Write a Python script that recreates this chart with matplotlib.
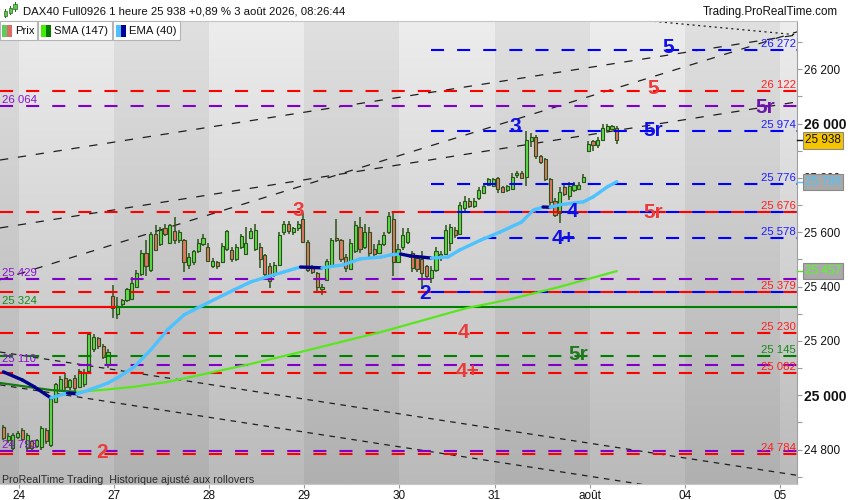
import matplotlib
matplotlib.use("Agg")
import matplotlib.pyplot as plt
import numpy as np
from matplotlib.patches import Rectangle
from matplotlib.collections import LineCollection

plt.rcParams['font.family'] = ['Liberation Sans', 'DejaVu Sans']
plt.rcParams['lines.scale_dashes'] = False

# ---------------- data ----------------
first_bar = -4
bar_open = [24883, 24835, 24805, 24845, 24872, 24805, 24830, 24812, 24810, 24872,
            24815, 24975, 25020, 25065, 25030, 25065, 25030, 25040, 25090, 25170,
            25210, 25180, 25110, 25365, 25300, 25335, 25350, 25355, 25400, 25445,
            25525, 25460, 25595, 25555, 25615, 25560, 25605, 25570, 25570, 25480,
            25490, 25530, 25555, 25545, 25475, 25490, 25490, 25540, 25535, 25500,
            25545, 25520, 25580, 25540, 25545, 25515, 25475, 25445, 25480, 25600,
            25630, 25600, 25615, 25650, 25565, 25470, 25450, 25390, 25425, 25480,
            25580, 25570, 25510, 25465, 25530, 25620, 25545, 25600, 25540, 25525,
            25555, 25600, 25650, 25490, 25545, 25565, 25525, 25505, 25500, 25475,
            25430, 25460, 25505, 25520, 25560, 25610, 25595, 25690, 25715, 25695,
            25725, 25745, 25775, 25770, 25800, 25765, 25755, 25760, 25810, 25820,
            25805, 25935, 25950, 25880, 25870, 25795, 25715, 25670, 25765, 25735,
            25755, 25760, 25785, 25900, 25935, 25920, 25940, 25975, 25980, 25985]
bar_high = [24890, 24860, 24862, 24870, 24878, 24860, 24835, 24840, 24885, 24878,
            24995, 25045, 25070, 25080, 25060, 25075, 25095, 25095, 25230, 25225,
            25215, 25190, 25170, 25405, 25360, 25355, 25395, 25435, 25462, 25535,
            25570, 25600, 25625, 25620, 25630, 25630, 25655, 25610, 25575, 25525,
            25535, 25575, 25595, 25560, 25505, 25495, 25560, 25610, 25545, 25555,
            25595, 25620, 25615, 25630, 25560, 25520, 25485, 25490, 25600, 25640,
            25640, 25620, 25640, 25670, 25570, 25480, 25455, 25410, 25500, 25580,
            25650, 25575, 25520, 25575, 25640, 25655, 25630, 25620, 25555, 25570,
            25600, 25675, 25670, 25555, 25615, 25615, 25530, 25515, 25530, 25480,
            25475, 25545, 25530, 25625, 25630, 25620, 25710, 25735, 25725, 25725,
            25765, 25780, 25800, 25800, 25805, 25770, 25775, 25820, 25825, 25825,
            25972, 25965, 25960, 25885, 25875, 25800, 25725, 25765, 25775, 25785,
            25785, 25785, 25815, 25935, 25940, 25950, 26000, 26000, 25995, 25990]
bar_low = [24835, 24825, 24798, 24840, 24835, 24795, 24798, 24805, 24800, 24822,
           24810, 24970, 25010, 25020, 25020, 25010, 25025, 25030, 25085, 25160,
           25170, 25135, 25100, 25285, 25280, 25330, 25345, 25350, 25395, 25440,
           25440, 25455, 25530, 25550, 25585, 25555, 25555, 25560, 25455, 25465,
           25480, 25525, 25550, 25490, 25470, 25465, 25485, 25530, 25490, 25495,
           25540, 25515, 25575, 25530, 25470, 25435, 25395, 25435, 25475, 25590,
           25595, 25590, 25605, 25560, 25455, 25445, 25385, 25370, 25420, 25475,
           25565, 25490, 25455, 25460, 25525, 25525, 25540, 25510, 25510, 25520,
           25550, 25595, 25440, 25485, 25535, 25555, 25455, 25455, 25390, 25425,
           25415, 25455, 25495, 25515, 25530, 25580, 25590, 25680, 25690, 25690,
           25720, 25740, 25770, 25765, 25745, 25745, 25750, 25755, 25800, 25795,
           25770, 25915, 25870, 25850, 25790, 25700, 25655, 25635, 25735, 25720,
           25750, 25755, 25780, 25895, 25900, 25910, 25935, 25970, 25975, 25925]
bar_close = [24842, 24850, 24855, 24862, 24840, 24855, 24805, 24835, 24880, 24830,
             24990, 25040, 25060, 25030, 25055, 25025, 25090, 25080, 25225, 25215,
             25180, 25140, 25160, 25320, 25330, 25350, 25390, 25415, 25450, 25525,
             25475, 25595, 25535, 25610, 25595, 25625, 25570, 25600, 25490, 25510,
             25530, 25560, 25580, 25495, 25495, 25475, 25550, 25605, 25500, 25545,
             25585, 25560, 25605, 25610, 25500, 25445, 25420, 25480, 25590, 25630,
             25605, 25615, 25630, 25565, 25460, 25455, 25400, 25400, 25495, 25570,
             25570, 25500, 25470, 25560, 25625, 25540, 25600, 25525, 25520, 25555,
             25590, 25660, 25490, 25540, 25590, 25600, 25470, 25465, 25450, 25440,
             25460, 25530, 25520, 25610, 25620, 25590, 25700, 25715, 25695, 25715,
             25755, 25770, 25795, 25795, 25760, 25750, 25770, 25805, 25818, 25800,
             25940, 25950, 25880, 25860, 25795, 25710, 25665, 25750, 25740, 25770,
             25775, 25775, 25805, 25925, 25920, 25940, 25985, 25990, 25990, 25938]

ema_x = [-4, 0, 2.5, 6, 9.5, 11.5, 14, 18, 20, 23.5, 27, 30.5, 34, 36, 44.5, 48,
         51.5, 55, 58.5, 63, 67.5, 71, 75.5, 77.5, 79.5, 81.5, 86, 89.5, 92, 96.5,
         100.5, 105, 107.5, 109.5, 111, 113, 116, 118, 120, 123, 125]
ema_y = [25086, 25056, 25031, 24990, 25008, 25005, 25019, 25045, 25064, 25104,
         25167, 25240, 25296, 25314, 25388, 25417, 25436, 25454, 25472, 25469,
         25480, 25502, 25509, 25517, 25520, 25513, 25505, 25509, 25535, 25572,
         25601, 25638, 25682, 25693, 25692, 25701, 25708, 25712, 25730, 25767, 25786]

sma_x = [-4.7, 6, 11.5, 16.5, 23.5, 30.5, 37.5, 48, 58.5, 67, 75.5, 84.5, 93.5,
         102, 113, 125]
sma_y = [25045, 25019, 25012, 25019, 25031, 25049, 25075, 25115, 25159, 25196,
         25233, 25277, 25321, 25351, 25399, 25457]

day_labels = ['24', '27', '28', '29', '30', '31', 'août', '04', '05']

red_levels = [26122, 25676, 25379, 25230, 25082, 24784]
purple_levels = [26064, 25429, 25110, 24793]
green_dash_levels = [25145]
green_solid_level = 25324
blue_levels = [26272, 25974, 25776, 25676, 25578, 25379]

right_label_values = [26272, 26122, 25974, 25776, 25676, 25578, 25379, 25230, 25145, 25082, 24784]
right_label_kinds = ['b', 'r', 'b', 'b', 'r', 'b', 'r', 'r', 'g', 'r', 'r']
left_label_values = [26064, 25429, 25324, 25110, 24793]
left_label_kinds = ['p', 'p', 'g', 'p', 'p']

wave_text = ['5', '5', '5r', '3', '5r', '3', '4', '5r', '4+', '2', '4', '5r', '4+', '2']
wave_x = [135.8, 132.6, 156.2, 103.6, 132.6, 58, 115.6, 132.6, 113.9, 84.7, 92.7, 116.9, 93.7, 16.8]
wave_y = [26279, 26129, 26060, 25988, 25974, 25681, 25676, 25672, 25578, 25374, 25230, 25150, 25088, 24789]
wave_kind = ['b', 'r', 'p', 'b', 'b', 'r', 'b', 'r', 'b', 'b', 'r', 'g', 'r', 'r']

trend_x0 = [-4.7, -4.7, -4.7, 120, -4.7, -4.7]
trend_y0 = [25866, 25616, 25425, 26398, 25159, 25038]
trend_x1 = [162.9, 162.9, 162.9, 162.9, 162.9, 162.9]
trend_y1 = [26327, 26080, 26338, 26327, 24705, 24583]

last_price = 25938
ema_last = 25786
sma_last = 25457

title = "DAX40 Full0926 1 heure 25 938 +0,89 % 3 août 2026, 08:26:44"

# ---------------- figure ----------------
W, H = 850, 500
fig = plt.figure(figsize=(W / 100, H / 100), dpi=100)
fig.patch.set_facecolor('white')
PL, PR, PT, PB = 0, 797, 21, 484
ax = fig.add_axes([PL / W, 1 - PB / H, (PR - PL) / W, (PB - PT) / H])
X0, X1 = -4.7, 162.9
Y0, Y1 = 24673, 26378


def fmt(v):
    return f"{v:,}".replace(",", " ")


# background day bands with vertical gradient
grad = np.linspace(0, 1, 256)[:, None]
for k in range(-1, 9):
    xa = max(20 * k - 0.7, X0)
    xb = min(20 * k + 19.3, X1)
    if xb <= xa:
        continue
    top, bot = (237, 186) if k % 2 == 0 else (224, 176)
    vals = (top + (bot - top) * grad) / 255.0
    img = np.dstack([vals, vals, vals])
    ax.imshow(img, extent=[xa, xb, Y0, Y1], aspect='auto', origin='upper',
              zorder=0, interpolation='bilinear')

ax.set_xlim(X0, X1)
ax.set_ylim(Y0, Y1)

# trend lines
trend_styles = [(0, (6, 7)), (0, (6, 7)), (0, (6, 7)), (0, (1.5, 2.5)), (0, (4, 4)), (0, (4, 4))]
for xa, ya, xb, yb, st in zip(trend_x0, trend_y0, trend_x1, trend_y1, trend_styles):
    ax.plot([xa, xb], [ya, yb], color='#1e1e1e', lw=0.9, ls=st, zorder=2)

# candles
wick = '#2b5219'
for i, (o, h, l, c) in enumerate(zip(bar_open, bar_high, bar_low, bar_close)):
    x = first_bar + i
    up = c >= o
    ax.plot([x, x], [l, h], color=wick, lw=1.1, zorder=3, solid_capstyle='butt')
    bottom = min(o, c)
    height = max(abs(c - o), 4)
    ax.add_patch(Rectangle((x - 0.33, bottom), 0.66, height,
                           fc='#5cdc4a' if up else '#e27766', ec=wick, lw=0.8, zorder=4))

# horizontal levels
dash = (0, (9.4, 9.4))
LW = 1.5
for v in red_levels:
    ax.plot([X0, X1], [v, v], color='#ff0000', lw=LW, ls=dash, zorder=5)
for v in purple_levels:
    ax.plot([X0, X1], [v, v], color='#8000c8', lw=LW, ls=dash, zorder=5)
for v in green_dash_levels:
    ax.plot([X0, X1], [v, v], color='#008000', lw=LW, ls=dash, zorder=5)
ax.plot([X0, X1], [green_solid_level] * 2, color='#008000', lw=LW, zorder=5)
ax.plot([X0, 19.5], [green_solid_level] * 2, color='#ff0000', lw=LW, zorder=5)
for v in blue_levels:
    ax.plot([85.9, X1], [v, v], color='#0000ff', lw=LW, ls=dash, zorder=5.1)


def slope_line(xs, ys, up_color, down_color, lw, z):
    segs = [[(xs[i], ys[i]), (xs[i + 1], ys[i + 1])] for i in range(len(xs) - 1)]
    cols = [up_color if ys[i + 1] >= ys[i] else down_color for i in range(len(xs) - 1)]
    ax.add_collection(LineCollection(segs, colors=cols, linewidths=lw, zorder=z,
                                     capstyle='round', joinstyle='round'))


slope_line(sma_x, sma_y, '#5ae61e', '#117a11', 1.6, 6)
slope_line(ema_x, ema_y, '#4cc2ff', '#00008c', 2.4, 6.5)

# level labels
kind_small = {'b': '#1c1cff', 'r': '#ff1e1e', 'g': '#168a16', 'p': '#8a10d0'}
for v, k in zip(right_label_values, right_label_kinds):
    ax.text(162.7, v + 11, fmt(v), ha='right', va='baseline', fontsize=8.2,
            color=kind_small[k], zorder=7)
for v, k in zip(left_label_values, left_label_kinds):
    ax.text(-4.3, v + 11, fmt(v), ha='left', va='baseline', fontsize=8.2,
            color=kind_small[k], zorder=7)

kind_big = {'b': '#1010e6', 'r': '#ea3a3a', 'g': '#1f7a1f', 'p': '#6d17a8'}
for t, x, y, k in zip(wave_text, wave_x, wave_y, wave_kind):
    ax.text(x, y, t, ha='center', va='center', fontsize=15, fontweight='bold',
            color=kind_big[k], zorder=8)

ax.text(0.003, (480 - 476) / 463, "ProRealTime Trading  Historique ajusté aux rollovers",
        transform=ax.transAxes, fontsize=7.7, color='#2a2a2a', va='center', ha='left', zorder=8)

# axes styling
ax.spines['left'].set_visible(False)
ax.spines['top'].set_color('#c4c4c4')
ax.spines['right'].set_color('#a0a0a0')
ax.spines['bottom'].set_color('#c8c8c8')
ax.yaxis.tick_right()
major = list(range(24800, 26201, 200))
ax.set_yticks(major)
ax.set_yticklabels([fmt(v) for v in major])
ax.set_yticks(list(range(24700, 26301, 100)), minor=True)
ax.tick_params(axis='y', which='both', length=3.6, width=0.8, color='#9a9a9a',
               labelsize=8.5, pad=1.5, labelcolor='#111111')
for lab, v in zip(ax.get_yticklabels(), major):
    if v % 1000 == 0:
        lab.set_fontweight('bold')
        lab.set_fontsize(10)
ax.set_xticks([20 * k - 0.7 for k in range(len(day_labels))])
ax.set_xticklabels(day_labels)
ax.tick_params(axis='x', length=3, width=0.8, color='#9a9a9a', labelsize=8.5, pad=1,
               labelcolor='#111111')


# price boxes on the right axis
def price_box(v, fc, tc, lc):
    ax.plot([X1, X1 + 1.2], [v, v], color=lc, lw=1, clip_on=False, zorder=9)
    ax.annotate(fmt(v), xy=(1, v), xycoords=('axes fraction', 'data'), xytext=(5.5, 0),
                textcoords='offset points', ha='left', va='center', fontsize=8.5, color=tc,
                bbox=dict(boxstyle='square,pad=0.18', fc=fc, ec='#8a8a8a', lw=0.8),
                annotation_clip=False, zorder=10)


price_box(last_price, '#f5c400', '#111111', '#111111')
price_box(ema_last, '#a9a9a9', '#4cc4ff', '#4cc2ff')
price_box(sma_last, '#a9a9a9', '#50ff1a', '#5ae61e')


# ---------------- header and legend ----------------
def frect(x, y, w, h, fc, ec=None, lw=0.0, z=20):
    fig.add_artist(Rectangle((x / W, 1 - (y + h) / H), w / W, h / H, transform=fig.transFigure,
                             fc=fc, ec=ec if ec else fc, lw=lw, zorder=z))


# header icon (small candles)
for cx, wy0, wy1, by0, by1 in [(5, 9, 18, 11, 16), (10, 6, 15, 8, 13), (15, 2, 12, 4, 9)]:
    frect(cx, wy0, 0.8, wy1 - wy0, '#2d6a1d')
    frect(cx - 1.5, by0, 3.8, by1 - by0, '#5cc84c', ec='#2d6a1d', lw=0.5, z=21)
fig.text(23 / W, 1 - 11.5 / H, title, fontsize=8.2, va='center', ha='left', color='#111111')
fig.text(838 / W, 1 - 12 / H, "Trading.ProRealTime.com", fontsize=8.4, va='center',
         ha='right', color='#111111')

frect(0, 21, 37, 18.5, 'white', ec='#b4b4b4', lw=0.8)
frect(38, 21, 74, 18.5, 'white', ec='#b4b4b4', lw=0.8)
frect(113, 21, 67, 18.5, 'white', ec='#b4b4b4', lw=0.8)
for x0, c1, c2 in [(2, '#5ccc5c', '#e06a6a'), (41, '#44ee00', '#007a00'), (116, '#4cc0ff', '#000099')]:
    frect(x0, 25.5, 5, 11, c1, z=21)
    frect(x0 + 5, 25.5, 5, 11, c2, z=21)
for x0, t in [(15, 'Prix'), (54, 'SMA (147)'), (129, 'EMA (40)')]:
    fig.text(x0 / W, 1 - 31 / H, t, fontsize=8.2, va='center', ha='left', color='#111111',
             zorder=22)

fig.savefig('out.png', dpi=100)
